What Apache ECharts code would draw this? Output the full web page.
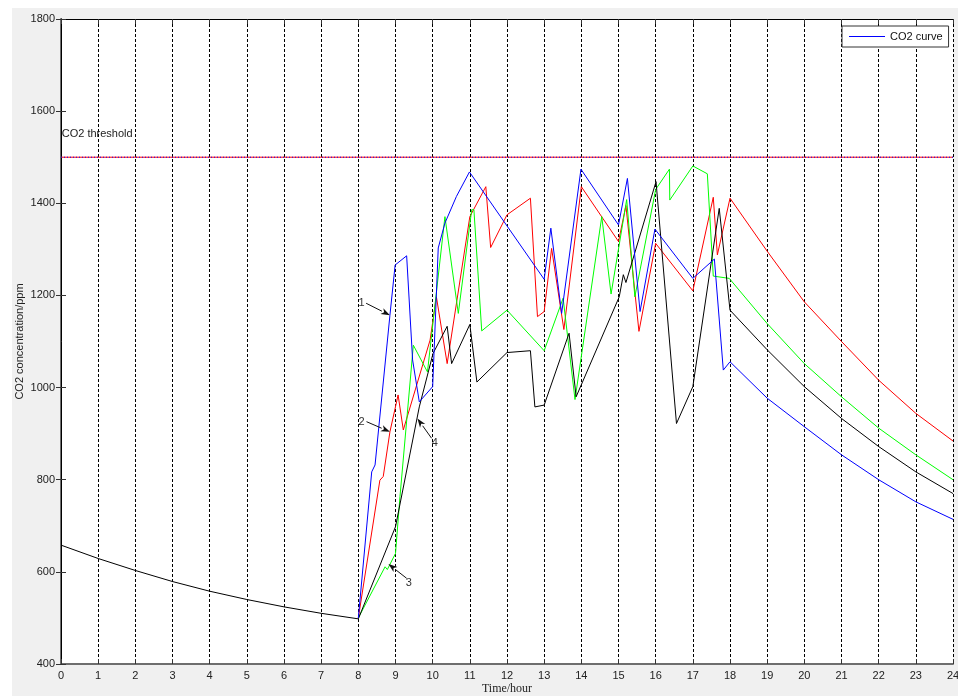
<!DOCTYPE html>
<html>
<head>
<meta charset="utf-8">
<script src="https://cdn.jsdelivr.net/npm/echarts@6/dist/echarts.min.js"></script>
<style>
html,body{margin:0;padding:0;background:#fff;overflow:hidden;}
#chart{width:958px;height:696px;}
</style>
</head>
<body>
<div id="chart"></div>
<script>
// ---- Data (hour, ppm) ----
const hourTicks = [0,1,2,3,4,5,6,7,8,9,10,11,12,13,14,15,16,17,18,19,20,21,22,23,24];
const ppmTicks = [400,600,800,1000,1200,1400,1600,1800];
const thresholdValue = 1500;

// curve 4 (black), including the shared night-time decay 0-8 h
const curveBlack = [
  [0,658],[1,629],[2,603],[3,579],[4,558],[5,540],[6,524],[7,510],[8,498],
  [9,698],[9.64,958],[10.01,1074],[10.39,1133],[10.51,1052],[11,1137],[11.19,1012],
  [12,1076],[12.63,1080],[12.75,958],[13,962],[13.67,1118],[13.86,980],
  [15.02,1197],[15.13,1245],[15.2,1228],[16.01,1447],[16.56,922],[17,1002],
  [17.71,1389],[18,1168],[19,1082],[20,1002],[21,933],[22,872],[23,817],[24,770]
];
// curve 1 (blue)
const curveBlue = [
  [8,500],[8.36,817],[8.45,832],[8.85,1157],[8.99,1266],[9.3,1286],[9.46,1060],[9.64,969],
  [10,1002],[10.15,1303],[10.33,1357],[10.64,1415],[10.99,1468],[13,1235],[13.18,1346],
  [13.47,1161],[13.99,1474],[15,1353],[15.24,1454],[15.58,1165],[15.98,1344],[17,1237],
  [17.58,1279],[17.82,1038],[18,1056],[19,977],[20,915],[21,854],[22,800],[23,752],[24,714]
];
// curve 2 (red)
const curveRed = [
  [8,500],[8.58,799],[8.67,807],[8.85,904],[9.07,984],[9.21,908],[9.93,1103],[10.1,1197],
  [10.39,1052],[11,1371],[11.43,1436],[11.56,1304],[12,1375],[12.63,1411],[12.82,1154],
  [13,1165],[13.2,1302],[13.53,1126],[14,1436],[15,1317],[15.2,1395],[15.55,1122],[16,1313],
  [17,1210],[17.55,1413],[17.66,1288],[18,1411],[19,1296],[20,1186],[21,1100],[22,1016],[23,944],[24,884]
];
// curve 3 (green)
const curveGreen = [
  [8,500],[8.72,611],[8.78,605],[9,640],[9.12,763],[9.48,1092],[9.86,1034],[10.33,1371],
  [10.69,1161],[11.05,1386],[11.11,1386],[11.32,1123],[12,1168],[13,1080],[13.51,1194],
  [13.83,974],[14.55,1371],[14.8,1203],[15.22,1408],[15.44,1197],[16,1430],[16.37,1474],
  [16.38,1407],[17,1481],[17.39,1464],[17.55,1242],[17.98,1237],[19,1139],[20,1052],
  [21,980],[22,912],[23,854],[24,800]
];

// annotation arrows (data coordinates)
const annotations = [
  {text:'1', label:[8.09,1183], from:[8.21,1183], to:[8.85,1157]},
  {text:'2', label:[8.09,926],  from:[8.22,926],  to:[8.85,904]},
  {text:'3', label:[9.36,575],  from:[9.30,586],  to:[8.81,617]},
  {text:'4', label:[10.06,879], from:[9.97,890],  to:[9.59,933]}
];
const thresholdLabel = {text:'CO2 threshold', at:[0.02,1550]};

const chart = echarts.init(document.getElementById('chart'));
const sans = 'Liberation Sans, Arial, sans-serif';

function lineSeries(name, data, color, z){
  return {name:name, type:'line', data:data, symbol:'none', showSymbol:false,
    lineStyle:{color:color, width:1}, itemStyle:{color:color}, z:z, silent:true};
}

const option = {
  animation:false,
  backgroundColor:'#f0f0f0',
  grid:{left:61, right:5, top:19, bottom:32, show:true, backgroundColor:'#ffffff', borderWidth:0,
        containLabel:false, outerBoundsMode:'none'},
  legend:{
    data:[{name:'CO2 curve', icon:'rect'}], left:842, top:26, orient:'vertical',
    backgroundColor:'#ffffff', borderColor:'#333', borderWidth:1, borderRadius:0,
    padding:[5,6,5,7], itemWidth:36, itemHeight:1, itemGap:0,
    textStyle:{fontFamily:sans, fontSize:11, color:'#111'}
  },
  xAxis:[{
    type:'value', min:hourTicks[0], max:hourTicks[hourTicks.length-1], interval:1, position:'bottom',
    axisLine:{show:true, lineStyle:{color:'#6e6e6e', width:2}},
    axisTick:{show:true, inside:true, length:5, lineStyle:{color:'#333'}},
    axisLabel:{fontFamily:sans, fontSize:11, color:'#222', margin:6},
    splitLine:{show:true, lineStyle:{type:[3,2], color:'#000', width:1}},
    name:'Time/hour', nameLocation:'middle', nameGap:19, nameMoveOverlap:false,
    nameTextStyle:{fontFamily:'Liberation Serif, Times New Roman, serif', fontSize:12, color:'#222'}
  },{
    type:'value', min:hourTicks[0], max:hourTicks[hourTicks.length-1], interval:1, position:'top',
    axisLine:{show:true, lineStyle:{color:'#000', width:1}},
    axisTick:{show:true, inside:true, length:5, lineStyle:{color:'#333'}},
    axisLabel:{show:false}, splitLine:{show:false}
  }],
  yAxis:[{
    type:'value', min:ppmTicks[0], max:ppmTicks[ppmTicks.length-1], interval:200, position:'left',
    axisLine:{show:true, lineStyle:{color:'#6e6e6e', width:2}},
    axisTick:{show:true, inside:true, length:5, lineStyle:{color:'#333'}},
    axisLabel:{fontFamily:sans, fontSize:11, color:'#222', margin:6, formatter:(v)=>String(v)},
    splitLine:{show:false},
    name:'CO2 concentration/ppm', nameLocation:'middle', nameGap:36, nameRotate:90, nameMoveOverlap:false,
    nameTextStyle:{fontFamily:sans, fontSize:11, color:'#222'}
  },{
    type:'value', min:ppmTicks[0], max:ppmTicks[ppmTicks.length-1], interval:200, position:'right',
    axisLine:{show:true, lineStyle:{color:'#000', width:1}},
    axisTick:{show:true, inside:true, length:5, lineStyle:{color:'#333'}},
    axisLabel:{show:false}, splitLine:{show:false}
  }],
  series:[
    {name:'threshold', type:'line', symbol:'none', data:[[hourTicks[0],thresholdValue],[hourTicks[hourTicks.length-1],thresholdValue]],
      lineStyle:{color:'#ff0000', width:1}, z:2, silent:true},
    {name:'threshold2', type:'line', symbol:'none', data:[[hourTicks[0],thresholdValue],[hourTicks[hourTicks.length-1],thresholdValue]],
      lineStyle:{color:'#0000ff', width:1, type:[1,2]}, z:2, silent:true},
    lineSeries('curve 2', curveRed, '#ff0000', 3),
    lineSeries('curve 3', curveGreen, '#00ff00', 4),
    lineSeries('curve 4', curveBlack, '#000000', 5),
    lineSeries('CO2 curve', curveBlue, '#0000ff', 6)
  ]
};
chart.setOption(option);

// ---- Annotations via the chart's own coordinate conversion ----
const graphics = [
  {type:'rect', shape:{x:0, y:0, width:958, height:8}, style:{fill:'#ffffff'}, z:-1, silent:true},
  {type:'rect', shape:{x:0, y:0, width:12, height:696}, style:{fill:'#ffffff'}, z:-1, silent:true}
];
const tp = chart.convertToPixel({gridIndex:0}, thresholdLabel.at);
graphics.push({type:'text', x:tp[0], y:tp[1], z:20,
  style:{text:thresholdLabel.text, font:'11px Liberation Sans, Arial, sans-serif', fill:'#222', textVerticalAlign:'middle', textAlign:'left'}});
annotations.forEach(a => {
  const p0 = chart.convertToPixel({gridIndex:0}, a.from);
  const p1 = chart.convertToPixel({gridIndex:0}, a.to);
  const pl = chart.convertToPixel({gridIndex:0}, a.label);
  const dx = p1[0]-p0[0], dy = p1[1]-p0[1];
  const len = Math.sqrt(dx*dx+dy*dy);
  const ux = dx/len, uy = dy/len;
  const hl = 9, hw = 3.2;
  const bx = p1[0]-ux*hl, by = p1[1]-uy*hl;
  graphics.push({type:'line', z:20, shape:{x1:p0[0], y1:p0[1], x2:bx, y2:by}, style:{stroke:'#111', lineWidth:1}});
  graphics.push({type:'polygon', z:20, shape:{points:[[p1[0],p1[1]],[bx-uy*hw, by+ux*hw],[bx+ux*2.5, by+uy*2.5],[bx+uy*hw, by-ux*hw]]}, style:{fill:'#111'}});
  graphics.push({type:'text', z:20, x:pl[0], y:pl[1],
    style:{text:a.text, font:'11px Liberation Sans, Arial, sans-serif', fill:'#333', textAlign:'center', textVerticalAlign:'middle'}});
});
chart.setOption({graphic:graphics});
</script>
</body>
</html>
